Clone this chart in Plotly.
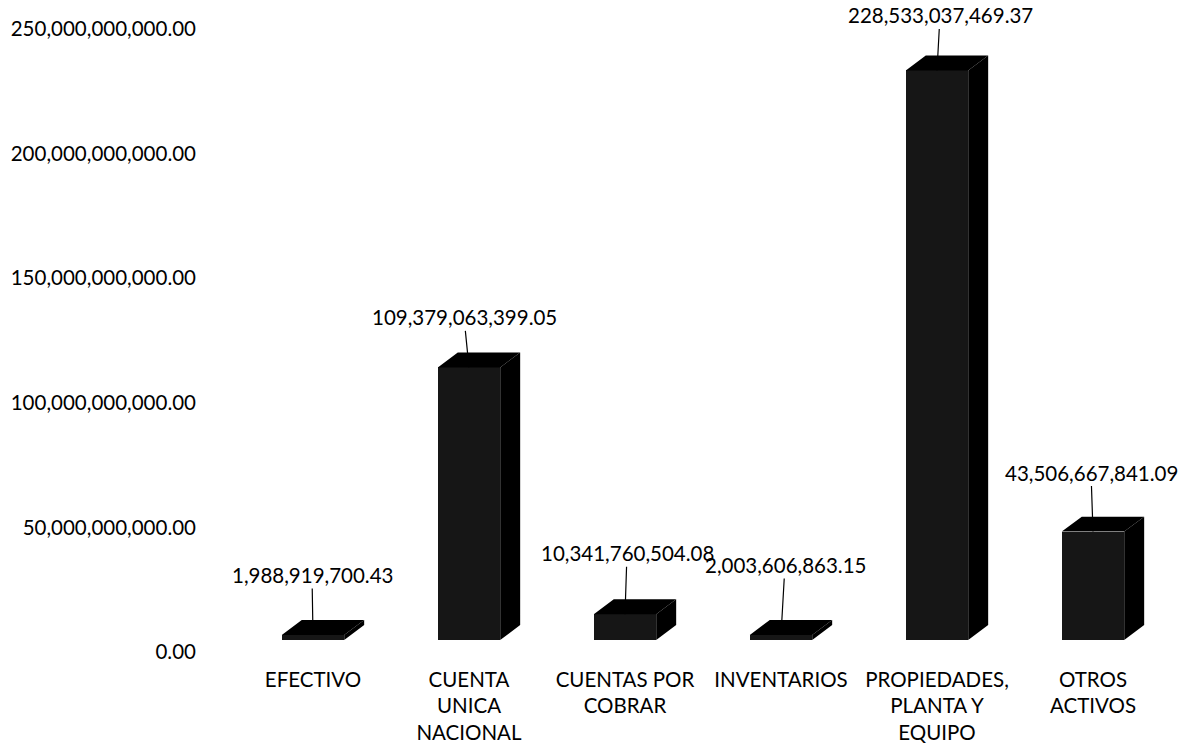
import plotly.graph_objects as go

categories = ["EFECTIVO", "CUENTA<br>UNICA<br>NACIONAL", "CUENTAS POR<br>COBRAR",
              "INVENTARIOS", "PROPIEDADES,<br>PLANTA Y<br>EQUIPO", "OTROS<br>ACTIVOS"]
values = [1988919700.43, 109379063399.05, 10341760504.08,
          2003606863.15, 228533037469.37, 43506667841.09]
y_ticks = [0, 50e9, 100e9, 150e9, 200e9, 250e9]

# label offsets (pixels) for the leader-line callouts
label_ax = [-1, -5, 2, 4, 3, -2]
label_ay = [-60, -50, -61, -70, -55, -59]

FONT = "Lato"
FS = 20.5
BAR_W = 0.40          # front-face width in category units
DX = 0.128            # 3D depth, x (category units)
DY = 6.0e9            # 3D depth, y (value units)

idx = list(range(len(categories)))

fig = go.Figure()

# front faces
fig.add_trace(go.Bar(x=idx, y=values, width=BAR_W, marker=dict(color="#161616", line=dict(width=0)),
                     hoverinfo="skip"))

# top and side faces computed from the data
top_x, top_y, side_x, side_y = [], [], [], []
for i, v in zip(idx, values):
    l, r = i - BAR_W / 2, i + BAR_W / 2
    top_x += [l, l + DX, r + DX, r, l, None]
    top_y += [v, v + DY, v + DY, v, v, None]
    side_x += [r, r, r + DX, r + DX, r, None]
    side_y += [0, v, v + DY, DY, 0, None]

fig.add_trace(go.Scatter(x=side_x, y=side_y, mode="lines", fill="toself", fillcolor="#000000",
                         line=dict(width=0, color="#000000"), hoverinfo="skip"))
fig.add_trace(go.Scatter(x=top_x, y=top_y, mode="lines", fill="toself", fillcolor="#000000",
                         line=dict(width=0, color="#000000"), hoverinfo="skip"))

for i, v, ax, ay in zip(idx, values, label_ax, label_ay):
    fig.add_annotation(x=i, y=v, text=f"{v:,.2f}", showarrow=True, arrowhead=0,
                       arrowwidth=1.2, arrowcolor="#000000", ax=ax, ay=ay, standoff=0,
                       font=dict(family=FONT, size=FS, color="#000000"))

fig.update_layout(
    width=1189, height=753,
    margin=dict(l=235, r=18, t=12, b=113),
    paper_bgcolor="white", plot_bgcolor="white",
    showlegend=False,
    font=dict(family=FONT, size=FS, color="#000000"),
    bargap=0,
)
fig.update_xaxes(range=[-0.5, len(categories) - 0.5], tickvals=idx, ticktext=categories,
                 showgrid=False, zeroline=False, showline=False, ticks="", automargin=False,
                 ticklabelstandoff=25, tickfont=dict(family=FONT, size=FS))
fig.update_yaxes(range=[0, 252e9], tickvals=y_ticks, ticktext=[f"{t:,.2f}" for t in y_ticks],
                 showgrid=False, zeroline=False, showline=False, ticks="", automargin=False,
                 ticklabelshift=12, ticklabelstandoff=38, tickfont=dict(family=FONT, size=FS))

fig.write_html("out.html", config={"displayModeBar": False},
               post_script="document.body.style.margin='0';document.body.style.overflow='hidden';")
